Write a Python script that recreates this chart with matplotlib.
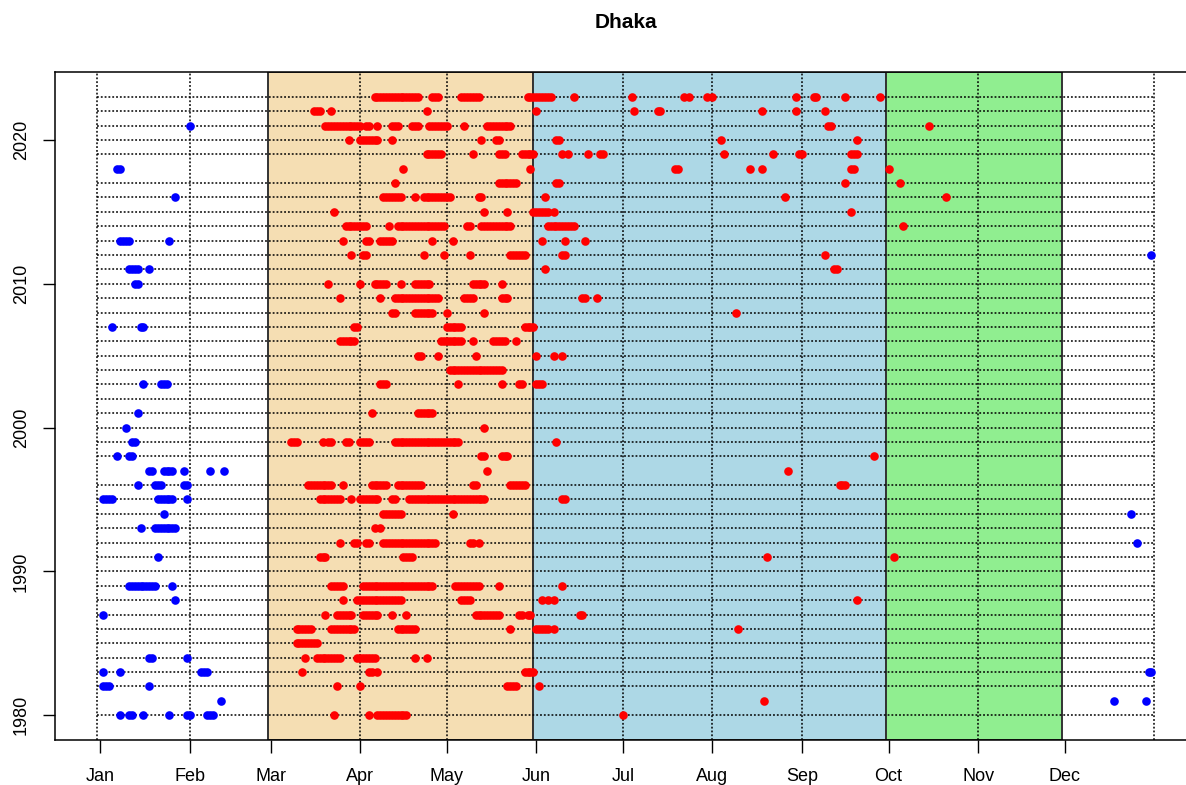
import matplotlib
matplotlib.use('Agg')
import matplotlib.pyplot as plt
from matplotlib.patches import Rectangle

plt.rcParams['font.family'] = ['Liberation Sans', 'DejaVu Sans']

# ---------------------------------------------------------------------------
# Data: day-of-year of each marked day, one entry per year (runs as a-b)
# ---------------------------------------------------------------------------
years = list(range(2023, 1979, -1))

cold_days = [
    "",                                  # 2023
    "",                                  # 2022
    "32",                                # 2021
    "",                                  # 2020
    "",                                  # 2019
    "7-8",                               # 2018
    "",                                  # 2017
    "27",                                # 2016
    "",                                  # 2015
    "",                                  # 2014
    "8-11 25",                           # 2013
    "365",                               # 2012
    "11-14 18",                          # 2011
    "13-14",                             # 2010
    "",                                  # 2009
    "",                                  # 2008
    "5 15-16",                           # 2007
    "",                                  # 2006
    "",                                  # 2005
    "",                                  # 2004
    "16 22-24",                          # 2003
    "",                                  # 2002
    "14",                                # 2001
    "10",                                # 2000
    "12-13",                             # 1999
    "7 11-12",                           # 1998
    "18-19 23-26 30 39 44",              # 1997
    "14 20-22 30-31",                    # 1996
    "2-5 21-26 31",                      # 1995
    "23 358",                            # 1994
    "15 20-27",                          # 1993
    "360",                               # 1992
    "21",                                # 1991
    "",                                  # 1990
    "11-20 26",                          # 1989
    "27",                                # 1988
    "2",                                 # 1987
    "",                                  # 1986
    "",                                  # 1985
    "18-19 31",                          # 1984
    "2 8 36-38 364-365",                 # 1983
    "2-4 18",                            # 1982
    "43 352 363",                        # 1981
    "8 11-12 16 25 31-32 38-40",         # 1980
]

warm_days = [
    "96-111 116-118 126-132 149-157 165 185 203 205 211 213 242 248-249 259 271",  # 2023
    "75-77 81 114 152 186 194-195 230 242 252",                                    # 2022
    "79-91 93-94 97 102-104 109-111 115-121 127 135-143 253-254 288",              # 2021
    "87 91-97 102 133 138-139 159-160 216 263",                                    # 2020
    "114-119 130 139-141 147-151 161 163 170 174-175 217 234 243-244 261-263",     # 2019
    "106 150 200-201 226 230 261-262 274",                                         # 2018
    "103 139-145 159-160 259 278",                                                 # 2017
    "99-105 110 113-122 132-133 155 238 294",                                      # 2016
    "82 134 142 151-156 158 261",                                                  # 2015
    "86-93 101 104-120 128-129 133-143 156-165 279",                               # 2014
    "85 93-94 98-102 116 123 154 162 169",                                         # 2013
    "88 92-93 113 120 129 143-148 161-162 252",                                    # 2012
    "155 255-256",                                                                 # 2011
    "80 91 96-100 105 110-115 130-134 140",                                        # 2010
    "84 98 103-118 127-130 140-142 168-169 173",                                   # 2009
    "102-103 110-116 121 134 221",                                                 # 2008
    "89-90 121-126 148-151",                                                       # 2007
    "84-89 119-126 130 137-141 145",                                               # 2006
    "111-112 118 131 152 158 161",                                                 # 2005
    "122-140",                                                                     # 2004
    "98-100 125 140 146-147 152-154",                                              # 2003
    "",                                                                            # 2002
    "95 111-116",                                                                  # 2001
    "134",                                                                         # 2000
    "67-69 78 80-81 86-87 91-94 103-125 159",                                      # 1999
    "133-134 140-142 269",                                                         # 1998
    "135 239",                                                                     # 1997
    "73-81 85 95-100 104-112 130-131 143-148 257-259",                             # 1996
    "77-84 88 91-97 102-103 108-134 161-162",                                      # 1995
    "99-105 123",                                                                  # 1994
    "96 98",                                                                       # 1993
    "84 89-90 93-94 99-117 129-130 132",                                           # 1992
    "77-79 106-109 232 276",                                                       # 1991
    "",                                                                            # 1990
    "81-85 92-116 124-132 139 161",                                                # 1989
    "85 90-105 126-129 154 156 158 263",                                           # 1988
    "79 83-88 92-97 102 107 131-139 146-147 149-150 167-168",                      # 1987
    "69-74 81-89 104-110 143 152-156 158 222",                                     # 1986
    "69-76",                                                                       # 1985
    "72 76-84 90-96 110 114",                                                      # 1984
    "71 94-95 97 148-151",                                                         # 1983
    "83 91 142-145 153",                                                           # 1982
    "231",                                                                         # 1981
    "82 94 97-107 182",                                                            # 1980
]

no_line_years = [2018, 1997, 1981]

month_labels = ['Jan', 'Feb', 'Mar', 'Apr', 'May', 'Jun',
                'Jul', 'Aug', 'Sep', 'Oct', 'Nov', 'Dec']
month_starts = [1, 32, 60, 91, 121, 152, 182, 213, 244, 274, 305, 335]
grid_days = [0, 32, 91, 121, 182, 213, 244, 305, 366]

seasons = [(59, 151, '#F5DEB3'),   # Mar-May
           (151, 273, '#ADD8E6'),  # Jun-Sep
           (273, 334, '#90EE90')]  # Oct-Nov


def expand(s):
    out = []
    for tok in s.split():
        if '-' in tok:
            a, b = map(int, tok.split('-'))
            out.extend(range(a, b + 1))
        else:
            out.append(int(tok))
    return out


# ---------------------------------------------------------------------------
W, H = 1186, 785
fig = plt.figure(figsize=(W / 100, H / 100), dpi=100)
x0, x1 = -14.64, 380.64
y0, y1 = 1980 - 1.72, 2023 + 1.72
left_px, right_px, top_px, bot_px = 55, 1196.6, 72, 740
ax = fig.add_axes([left_px / W, 1 - bot_px / H,
                   (right_px - left_px) / W, (bot_px - top_px) / H])
ax.set_xlim(x0, x1)
ax.set_ylim(y0, y1)

for a, b, c in seasons:
    ax.add_patch(Rectangle((a, y0), b - a, y1 - y0, facecolor=c,
                           edgecolor='#333333', lw=1.4, zorder=1))

dots = (0, (1.2, 1.3))
for d in grid_days:
    ax.axvline(d, color='black', lw=1.1, linestyle=dots, zorder=2)
for yr in years:
    if yr in no_line_years:
        continue
    ax.plot([0, 366], [yr, yr], color='black', lw=1.1, linestyle=dots, zorder=2)

for yr, cs, ws in zip(years, cold_days, warm_days):
    c = expand(cs)
    w = expand(ws)
    if c:
        ax.plot(c, [yr] * len(c), 'o', color='#0000FF', ms=6.2, mew=0, zorder=3)
    if w:
        ax.plot(w, [yr] * len(w), 'o', color='#FF0000', ms=6.2, mew=0, zorder=3)

ax.set_xticks(month_starts)
ax.set_xticklabels(month_labels)
ax.set_yticks([1980, 1990, 2000, 2010, 2020])
ax.set_yticklabels(['1980', '1990', '2000', '2010', '2020'],
                   rotation=90, va='center')
ax.tick_params(axis='both', length=9, width=1, labelsize=13, colors='black')
ax.tick_params(axis='x', pad=11)
ax.tick_params(axis='y', pad=9)
for s in ax.spines.values():
    s.set_linewidth(1.1)
    s.set_color('black')

fig.text((left_px + right_px) / 2 / W, 1 - 22 / H, 'Dhaka',
         ha='center', va='center', fontsize=15, fontweight='bold')

fig.savefig('out.png', dpi=100)
